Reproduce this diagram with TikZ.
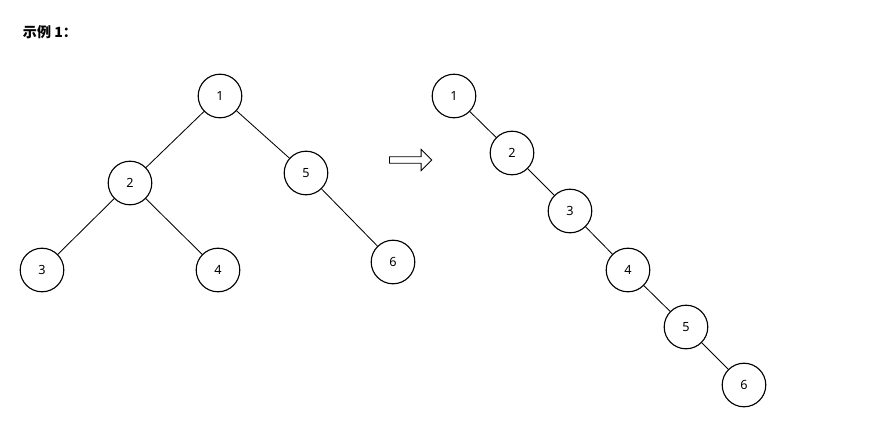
\documentclass[tikz,border=0pt]{standalone}
\usepackage{fontspec}
\setmainfont{Noto Sans}
\newfontfamily\cjk{Noto Sans CJK SC}
\usetikzlibrary{arrows.meta, positioning, shapes.arrows}

\tikzset{
  treenode/.style = {circle, draw, line width=0.8pt, minimum size=31pt, inner sep=0pt, font=\bfseries\small},
  treeedge/.style = {line width=0.6pt},
}

\begin{document}
\begin{tikzpicture}[x=0.025cm, y=-0.025cm]
				\useasboundingbox (0, 0) rectangle (870, 429);
				\node[anchor=west, font=\cjk\bfseries] (title) at (18, 32) {示例 1：};

				% left tree
				\node[treenode] (l1) at (220, 96) {1};
				\node[treenode] (l2) at (130, 183) {2};
				\node[treenode] (l5) at (306, 173) {5};
				\node[treenode] (l3) at (42, 270) {3};
				\node[treenode] (l4) at (218, 270) {4};
				\node[treenode] (l6) at (393, 262) {6};
				\draw[treeedge] (l1) -- (l2);
				\draw[treeedge] (l1) -- (l5);
				\draw[treeedge] (l2) -- (l3);
				\draw[treeedge] (l2) -- (l4);
				\draw[treeedge] (l5) -- (l6);

				\node[single arrow, draw, line width=0.6pt, minimum height=30pt, minimum width=15pt,
				      single arrow head extend=3pt, inner sep=1pt] (arrow) at (409, 160) {};

				% right chain
				\foreach \i/\x/\y in {1/454/96, 2/512/153, 3/570/211, 4/628/270, 5/686/327, 6/744/385}
					\node[treenode] (r\i) at (\x, \y) {\i};
				\foreach \a/\b in {1/2, 2/3, 3/4, 4/5, 5/6}
					\draw[treeedge] (r\a) -- (r\b);
			\end{tikzpicture}
\end{document}
